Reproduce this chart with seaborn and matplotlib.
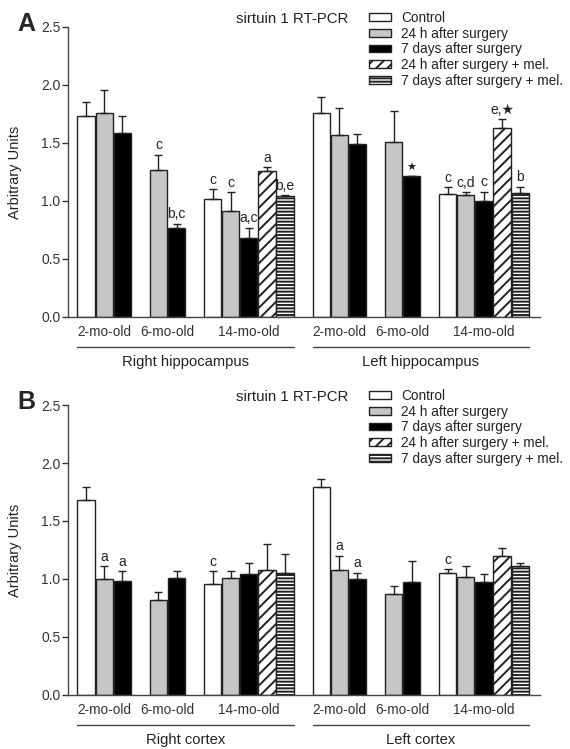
import pandas as pd
import matplotlib
matplotlib.use('Agg')
import matplotlib.pyplot as plt
import matplotlib.transforms as mtransforms
from matplotlib.patches import Patch
import seaborn as sns

# Groups and layout of bars inside one brain region
groups = ['Control', '24 h after surgery', '7 days after surgery',
          '24 h after surgery + mel.', '7 days after surgery + mel.']
ages = ['2-mo-old', '6-mo-old', '14-mo-old']
bar_age = ['2-mo-old'] * 3 + ['6-mo-old'] * 2 + ['14-mo-old'] * 5
bar_group = [0, 1, 2, 1, 2, 0, 1, 2, 3, 4]

# Panel A - hippocampus
hippo_right_mean = [1.73, 1.76, 1.59, 1.27, 0.765, 1.02, 0.915, 0.68, 1.26, 1.045]
hippo_right_sem = [0.12, 0.195, 0.14, 0.13, 0.04, 0.08, 0.16, 0.09, 0.03, 0.008]
hippo_right_sig = ['', '', '', 'c', 'b,c', 'c', 'c', 'a,c', 'a', 'b,e']
hippo_left_mean = [1.76, 1.57, 1.49, 1.51, 1.215, 1.06, 1.05, 1.00, 1.63, 1.065]
hippo_left_sem = [0.14, 0.23, 0.09, 0.27, 0.004, 0.06, 0.028, 0.08, 0.075, 0.06]
hippo_left_sig = ['', '', '', '', '★', 'c', 'c,d', 'c', 'e,★', 'b']

# Panel B - cortex
cortex_right_mean = [1.68, 1.00, 0.98, 0.82, 1.01, 0.955, 1.01, 1.04, 1.08, 1.055]
cortex_right_sem = [0.115, 0.11, 0.085, 0.065, 0.06, 0.11, 0.055, 0.095, 0.22, 0.16]
cortex_right_sig = ['', 'a', 'a', '', '', 'c', '', '', '', '']
cortex_left_mean = [1.79, 1.08, 1.00, 0.875, 0.975, 1.055, 1.02, 0.975, 1.20, 1.11]
cortex_left_sem = [0.07, 0.12, 0.055, 0.066, 0.18, 0.028, 0.09, 0.065, 0.065, 0.03]
cortex_left_sig = ['', 'a', 'a', '', '', 'c', '', '', '', '']

region_names = {'A': ['Right hippocampus', 'Left hippocampus'],
                'B': ['Right cortex', 'Left cortex']}

# styling
face = ['white', '#c6c6c6', 'black', 'white', 'white']
hatch = ['', '', '', '///', '-----']
edge = '#222222'
age_start = {'2-mo-old': 0, '6-mo-old': 3, '14-mo-old': 7}
region_start = [0, 13]
n_slots = 25
slot_order = [f's{k}' for k in range(n_slots)]

sns.set_style('ticks')
plt.rcParams['font.family'] = ['Liberation Sans', 'DejaVu Sans']
plt.rcParams['hatch.linewidth'] = 1.4
plt.rcParams['hatch.color'] = edge


def build_df(means, sems, sigs):
    rows = []
    for r in range(2):
        for i in range(len(bar_age)):
            g = bar_group[i]
            k = region_start[r] + age_start[bar_age[i]] + g
            rows.append({'region': r, 'age': bar_age[i], 'group': groups[g], 'gi': g,
                         'slot': f's{k}', 'k': k,
                         'value': means[r][i], 'err': sems[r][i], 'sig': sigs[r][i]})
    return pd.DataFrame(rows)


dfA = build_df([hippo_right_mean, hippo_left_mean],
               [hippo_right_sem, hippo_left_sem],
               [hippo_right_sig, hippo_left_sig])
dfB = build_df([cortex_right_mean, cortex_left_mean],
               [cortex_right_sem, cortex_left_sem],
               [cortex_right_sig, cortex_left_sig])

fig = plt.figure(figsize=(5.7, 7.49), dpi=100)
axA = fig.add_axes([68 / 570, 1 - 317 / 749, 472 / 570, 290 / 749])
axB = fig.add_axes([68 / 570, 1 - 695 / 749, 472 / 570, 290 / 749])


def draw_panel(ax, df, letter):
    for gi, gname in enumerate(groups):
        sub = df[df['gi'] == gi]
        n0 = len(ax.patches)
        sns.barplot(data=sub, x='slot', y='value', order=slot_order, color=face[gi],
                    saturation=1, edgecolor=edge, linewidth=1.0, width=0.95,
                    errorbar=None, ax=ax)
        for p in ax.patches[n0:]:
            p.set_hatch(hatch[gi])
            p.set_edgecolor(edge)

    # error bars (upper only) and significance letters
    for p in ax.patches:
        xc = p.get_x() + p.get_width() / 2
        row = df[df['k'] == round(xc)].iloc[0]
        ax.errorbar(xc, row['value'], yerr=[[0], [row['err']]], fmt='none',
                    ecolor=edge, elinewidth=1.0, capsize=3.2, capthick=1.0)
        if row['sig']:
            size = 8 if row['sig'] == '★' else 10
            ax.text(xc, row['value'] + row['err'] + 0.02, row['sig'], ha='center',
                    va='bottom', fontsize=size, color='#222222')

    ax.set_ylim(0, 2.5)
    ax.set_xlim(-1, 25.1)
    ax.set_yticks([0, 0.5, 1.0, 1.5, 2.0, 2.5])
    ax.set_yticklabels(['0.0', '0.5', '1.0', '1.5', '2.0', '2.5'])
    ax.tick_params(axis='y', length=4, width=1, pad=1.5, labelsize=10,
                   colors='#333333', labelcolor='#333333')

    # age tick labels under each group
    tick_pos, tick_lab = [], []
    for r in range(2):
        for a in ages:
            sel = df[(df['region'] == r) & (df['age'] == a)]
            tick_pos.append(sel['k'].mean())
            tick_lab.append(a)
    ax.set_xticks(tick_pos)
    ax.set_xticklabels(tick_lab)
    ax.tick_params(axis='x', length=0, pad=6, labelsize=9.8, labelcolor='#333333')
    ax.set_xlabel('')
    ax.set_ylabel('Arbitrary Units', fontsize=10.5, color='#222222')
    ax.yaxis.set_label_coords(-0.097, 0.5)

    sns.despine(ax=ax)
    for s in ['left', 'bottom']:
        ax.spines[s].set_color('#444444')
        ax.spines[s].set_linewidth(1.0)

    # region brackets
    trans = mtransforms.blended_transform_factory(ax.transData, ax.transAxes)
    for r in range(2):
        sel = df[df['region'] == r]
        x0, x1 = sel['k'].min() - 0.475, sel['k'].max() + 0.475
        ax.plot([x0, x1], [-0.103, -0.103], color='#444444', lw=1.0,
                transform=trans, clip_on=False)
        ax.text((x0 + x1) / 2, -0.155, region_names[letter][r], transform=trans,
                ha='center', va='center', fontsize=10.6, color='#222222')

    ax.text(-0.088, 1.01, letter, transform=ax.transAxes, fontsize=18,
            fontweight='bold', ha='center', va='center')
    ax.text(0.355, 1.027, 'sirtuin 1 RT-PCR', transform=ax.transAxes,
            fontsize=10.8, ha='left', va='center', color='#222222')

    handles = [Patch(facecolor=face[i], edgecolor=edge, hatch=hatch[i], lw=1.0)
               for i in range(len(groups))]
    ax.legend(handles, groups, loc='upper left', bbox_to_anchor=(0.637, 1.056),
              frameon=False, fontsize=9.8, handlelength=1.65, handleheight=0.5,
              handletextpad=0.75, labelspacing=0.13, borderpad=0, borderaxespad=0,
              labelcolor='#222222')


draw_panel(axA, dfA, 'A')
draw_panel(axB, dfB, 'B')

fig.savefig('out.png', dpi=100)
